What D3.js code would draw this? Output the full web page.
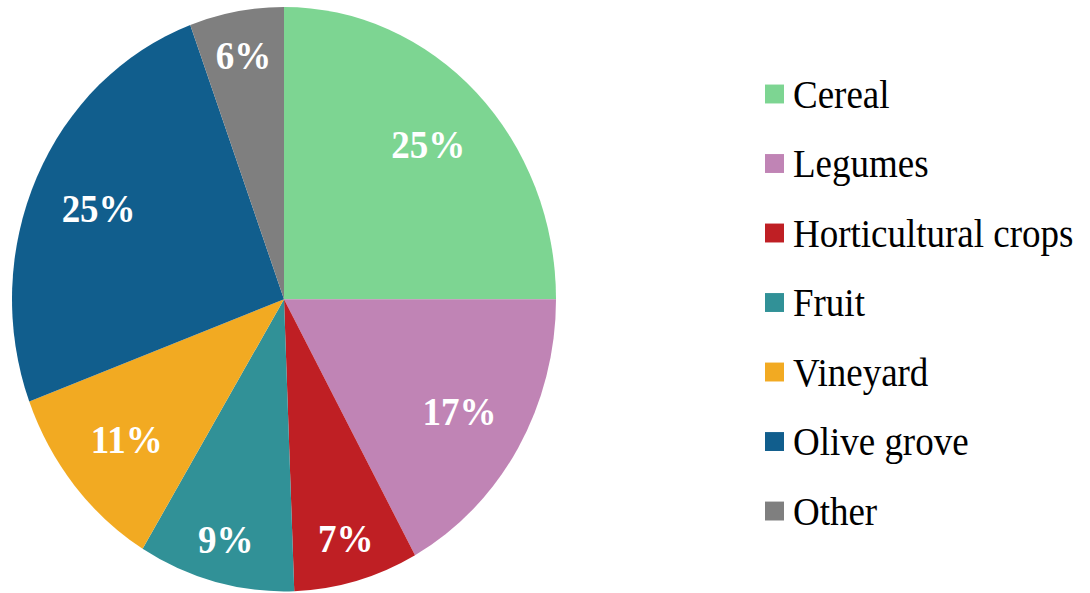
<!DOCTYPE html>
<html>
<head>
<meta charset="utf-8">
<script src="https://cdn.jsdelivr.net/npm/d3@7"></script>
<style>
  html, body { margin: 0; padding: 0; background: #fff; }
  svg { display: block; }
</style>
</head>
<body>
<svg id="pie-chart-svg"></svg>
<script>
// Chart data (shares, labels show rounded values)
const categories = ["Cereal", "Legumes", "Horticultural crops", "Fruit", "Vineyard", "Olive grove", "Other"];
const shares = [25.0, 17.0, 7.4, 9.3, 10.6, 25.1, 5.6];
const colors = ["#7dd592", "#c084b5", "#bf1f24", "#319197", "#f2aa22", "#115e8d", "#7f7f7f"];

const width = 1090;
const height = 593;
// the original picture is slightly stretched vertically
const baseHeight = 552;

const svg = d3.select("#pie-chart-svg")
  .attr("width", width)
  .attr("height", height)
  .attr("viewBox", `0 0 ${width} ${baseHeight}`)
  .attr("preserveAspectRatio", "none");

const data = categories.map((c, i) => ({ category: c, value: shares[i] }));

const radius = 272;
const cx = 284;
const cy = 278.5;

const color = d3.scaleOrdinal().domain(categories).range(colors);

const pie = d3.pie()
  .value(d => d.value)
  .sort(null);

const arc = d3.arc().innerRadius(0).outerRadius(radius);

// narrow slices get their label pushed further out so it fits
const labelRadius = d => (d.data.value < 10 ? 0.85 : 0.75) * radius;
const labelPos = d => d3.arc().innerRadius(labelRadius(d)).outerRadius(labelRadius(d)).centroid(d);

const g = svg.append("g")
  .attr("transform", `translate(${cx},${cy})`);

const arcs = pie(data);

g.selectAll("path.slice")
  .data(arcs)
  .enter()
  .append("path")
  .attr("class", "slice")
  .attr("d", arc)
  .attr("fill", d => color(d.data.category));

g.selectAll("text.pct")
  .data(arcs)
  .enter()
  .append("text")
  .attr("class", "pct")
  .attr("transform", d => `translate(${labelPos(d)})`)
  .attr("text-anchor", "middle")
  .attr("dy", "0.35em")
  .attr("fill", "#fff")
  .style("font-family", "'Liberation Serif', 'Times New Roman', serif")
  .style("font-weight", "bold")
  .style("font-size", "37px")
  .text(d => Math.round(d.data.value) + "%");

// Legend
const legendY = d3.scalePoint()
  .domain(categories)
  .range([87.5, 87.5 + 64.7 * (categories.length - 1)]);

const legend = svg.append("g")
  .attr("transform", "translate(765,0)");

const rows = legend.selectAll("g.row")
  .data(categories)
  .enter()
  .append("g")
  .attr("class", "row")
  .attr("transform", d => `translate(0,${legendY(d)})`);

rows.append("rect")
  .attr("x", 0)
  .attr("y", -8.8)
  .attr("width", 19)
  .attr("height", 17.6)
  .attr("fill", d => color(d));

rows.append("text")
  .attr("x", 28)
  .attr("dy", "0.35em")
  .attr("fill", "#000")
  .style("font-family", "'Liberation Serif', 'Times New Roman', serif")
  .style("font-size", "37px")
  .text(d => d);
</script>
</body>
</html>
